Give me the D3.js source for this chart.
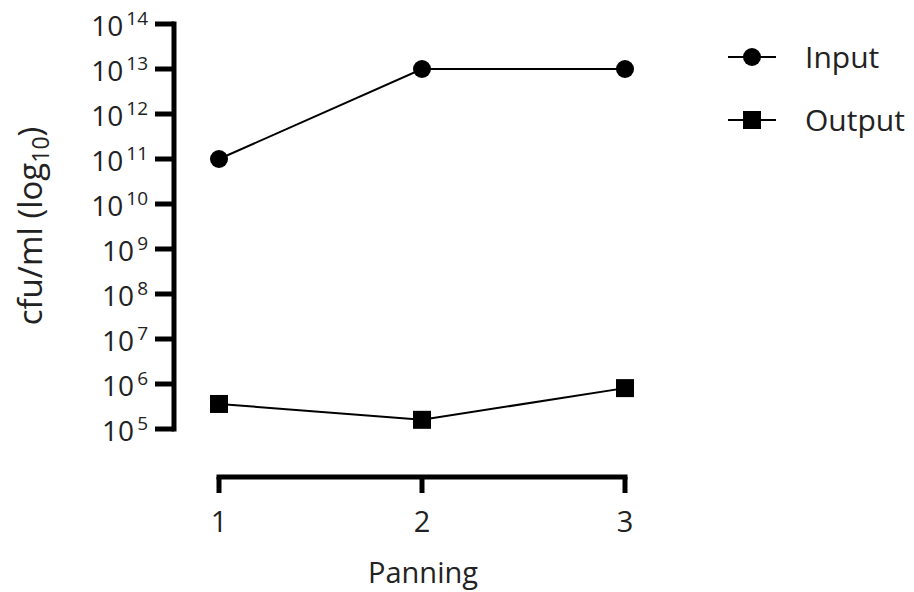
<!DOCTYPE html>
<html><head><meta charset="utf-8">
<script src="https://cdn.jsdelivr.net/npm/d3@7"></script>
<style>body{margin:0;background:#fff}text{font-family:"Open Sans",sans-serif;fill:#222}</style>
</head><body><svg id="c" width="914" height="592"></svg>
<script>
const panning = [1, 2, 3];
const inputValues = [1e11, 1e13, 1e13];
const outputValues = [3.6e5, 1.6e5, 8.1e5];
const yTickExponents = [5, 6, 7, 8, 9, 10, 11, 12, 13, 14];
const seriesNames = ["Input", "Output"];

const svg = d3.select("#c");
const x = d3.scaleLinear().domain([1, 3]).range([219, 625]);
const y = d3.scaleLog().domain([1e5, 1e14]).range([429, 24]);

// Y axis
const yAxisX = 174;
const yg = svg.append("g");
yg.append("line").attr("x1", yAxisX).attr("x2", yAxisX).attr("y1", y(1e14) - 2.5).attr("y2", y(1e5) + 2.5)
  .attr("stroke", "#000").attr("stroke-width", 5);
yTickExponents.forEach(e => {
  const yy = y(Math.pow(10, e));
  yg.append("line").attr("x1", 155).attr("x2", yAxisX).attr("y1", yy).attr("y2", yy)
    .attr("stroke", "#000").attr("stroke-width", 5);
  const t = yg.append("text").attr("x", 148).attr("y", yy + 12).attr("text-anchor", "end").style("font-size", "28px");
  t.append("tspan").text("10");
  t.append("tspan").attr("dx", 3).attr("dy", -11).style("font-size", "19px").text(String(e));
});

// X axis
const xAxisY = 477;
const xg = svg.append("g");
xg.append("line").attr("x1", x(1) - 2.5).attr("x2", x(3) + 2.5).attr("y1", xAxisY).attr("y2", xAxisY)
  .attr("stroke", "#000").attr("stroke-width", 5);
panning.forEach(p => {
  xg.append("line").attr("x1", x(p)).attr("x2", x(p)).attr("y1", xAxisY).attr("y2", 493)
    .attr("stroke", "#000").attr("stroke-width", 5);
  xg.append("text").attr("x", x(p)).attr("y", 532).attr("text-anchor", "middle").style("font-size", "29px").text(p);
});

// Axis titles
svg.append("text").attr("x", x(2) + 1).attr("y", 583).attr("text-anchor", "middle").style("font-size", "29px").text("Panning");
const yt = svg.append("text").attr("transform", "translate(42,226) rotate(-90)").attr("text-anchor", "middle").style("font-size", "33px");
yt.append("tspan").text("cfu/ml (log");
yt.append("tspan").attr("dy", 7).style("font-size", "23px").text("10");
yt.append("tspan").attr("dy", -7).text(")");

// Lines
const line = d3.line().x((d, i) => x(panning[i])).y(d => y(d));
svg.append("path").datum(inputValues).attr("d", line).attr("fill", "none").attr("stroke", "#000").attr("stroke-width", 2);
svg.append("path").datum(outputValues).attr("d", line).attr("fill", "none").attr("stroke", "#000").attr("stroke-width", 2);

svg.selectAll(".in").data(inputValues).enter().append("circle")
  .attr("cx", (d, i) => x(panning[i])).attr("cy", d => y(d)).attr("r", 9).attr("fill", "#000");
svg.selectAll(".out").data(outputValues).enter().append("rect")
  .attr("x", (d, i) => x(panning[i]) - 9).attr("y", d => y(d) - 9).attr("width", 18).attr("height", 18).attr("fill", "#000");

// Legend
const lg = svg.append("g");
seriesNames.forEach((name, i) => {
  const ly = 57 + i * 63;
  lg.append("line").attr("x1", 728).attr("x2", 776).attr("y1", ly).attr("y2", ly).attr("stroke", "#000").attr("stroke-width", 2);
  if (i === 0) lg.append("circle").attr("cx", 752).attr("cy", ly).attr("r", 9).attr("fill", "#000");
  else lg.append("rect").attr("x", 743).attr("y", ly - 9).attr("width", 18).attr("height", 18).attr("fill", "#000");
  lg.append("text").attr("x", 805).attr("y", ly + 11).style("font-size", "30px").text(name);
});
</script></body></html>
